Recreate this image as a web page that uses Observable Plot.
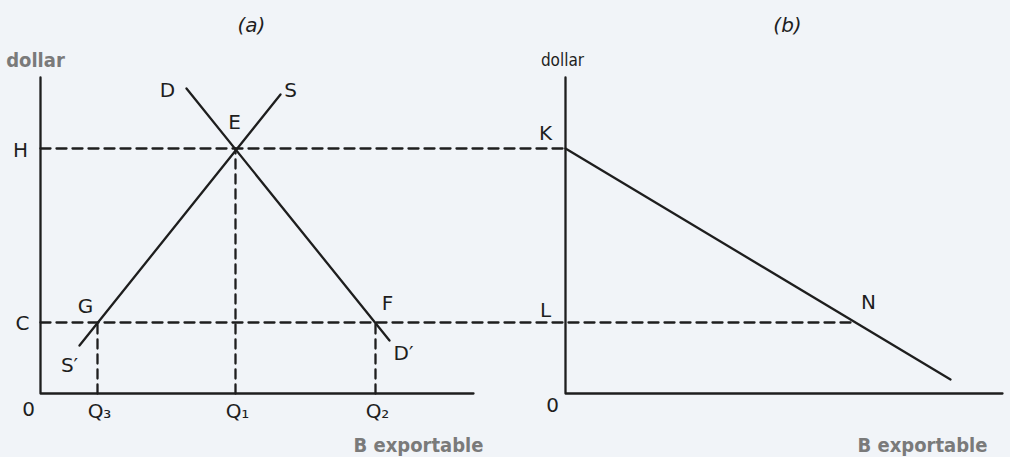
<!DOCTYPE html>
<html>
<head>
<meta charset="utf-8">
<script src="https://cdn.jsdelivr.net/npm/d3@7"></script>
<script src="https://cdn.jsdelivr.net/npm/@observablehq/plot@0.6"></script>
<style>
  html, body { margin: 0; padding: 0; background: #f1f4f8; }
  #chart svg { display: block; background: #f1f4f8; }
</style>
</head>
<body>
<div id="chart"></div>
<script>
// ---- Data (schematic units: quantity on x, dollar on y) ----
const priceNames = ["H", "C"];
const priceValues = [24.5, 7.1];
const quantityNames = ["Q₃", "Q₁", "Q₂"];
const quantityValues = [5.7, 19.5, 33.5];
const quantityPrices = [7.1, 24.5, 7.1];
// Demand D → D′ and supply S′ → S in panel (a)
const demandX = [14.6, 34.9];
const demandY = [30.5, 5.3];
const supplyX = [3.9, 24.0];
const supplyY = [4.8, 29.9];
// Panel (b): export supply line K → N (x relative to panel b origin)
const exportX = [0, 38.5];
const exportY = [24.5, 1.4];
const pointNX = 28.8;
const axisTop = 31.6;
const axisAEnd = 43.3;
const axisBEnd = 43.7;
const panelBOrigin = 52.5;

// ---- Derived tables ----
const demand = demandX.map((x, i) => ({x, y: demandY[i]}));
const supply = supplyX.map((x, i) => ({x, y: supplyY[i]}));
const exportLine = exportX.map((x, i) => ({x: panelBOrigin + x, y: exportY[i]}));
const hLines = [
  [{x: 0, y: priceValues[0]}, {x: panelBOrigin, y: priceValues[0]}],
  [{x: 0, y: priceValues[1]}, {x: panelBOrigin + pointNX, y: priceValues[1]}]
];
const vLines = quantityValues.map((q, i) => [{x: q, y: 0}, {x: q, y: quantityPrices[i]}]);
const axes = [
  [{x: 0, y: axisTop}, {x: 0, y: 0}, {x: axisAEnd, y: 0}],
  [{x: panelBOrigin, y: axisTop}, {x: panelBOrigin, y: 0}, {x: panelBOrigin + axisBEnd, y: 0}]
];

const ink = "#1e1e1e";
const gray = "#7a7a7a";
const font = "DejaVu Sans";
const sw = 2.3;

// Letter labels anchored to data points with small offsets
const labels = [
  {t: "D", x: demandX[0], y: demandY[0], dx: -19, dy: 2},
  {t: "S", x: supplyX[1], y: supplyY[1], dx: 10, dy: -4},
  {t: "E", x: quantityValues[1], y: priceValues[0], dx: -1, dy: -26},
  {t: priceNames[0], x: 0, y: priceValues[0], dx: -20, dy: 2},
  {t: priceNames[1], x: 0, y: priceValues[1], dx: -18, dy: 1},
  {t: "G", x: quantityValues[0], y: priceValues[1], dx: -12, dy: -16},
  {t: "S′", x: supplyX[0], y: supplyY[0], dx: -10, dy: 20},
  {t: "F", x: quantityValues[2], y: priceValues[1], dx: 12, dy: -19},
  {t: "D′", x: demandX[1], y: demandY[1], dx: 14, dy: 13},
  {t: "0", x: 0, y: 0, dx: -12, dy: 16},
  {t: "K", x: panelBOrigin, y: priceValues[0], dx: -20, dy: -15},
  {t: "L", x: panelBOrigin, y: priceValues[1], dx: -20, dy: -12},
  {t: "N", x: panelBOrigin + pointNX, y: priceValues[1], dx: 15, dy: -20},
  {t: "0", x: panelBOrigin, y: 0, dx: -13, dy: 12},
  ...quantityNames.map((t, i) => ({t, x: quantityValues[i], y: 0, dx: 2, dy: 18}))
];

const chart = Plot.plot({
  width: 1010,
  height: 457,
  margin: 0,
  style: {background: "#f1f4f8", overflow: "visible"},
  x: {domain: [-4, 97], range: [0, 1010], axis: null},
  y: {domain: [-6.4, 39.3], range: [457, 0], axis: null},
  marks: [
    // dashed guides
    ...hLines.map(d => Plot.line(d, {x: "x", y: "y", stroke: ink, strokeWidth: sw, strokeDasharray: "10,6"})),
    ...vLines.map(d => Plot.line(d, {x: "x", y: "y", stroke: ink, strokeWidth: sw, strokeDasharray: "9,6"})),
    // axes
    ...axes.map(d => Plot.line(d, {x: "x", y: "y", stroke: ink, strokeWidth: sw})),
    // curves
    Plot.line(demand, {x: "x", y: "y", stroke: ink, strokeWidth: sw}),
    Plot.line(supply, {x: "x", y: "y", stroke: ink, strokeWidth: sw}),
    Plot.line(exportLine, {x: "x", y: "y", stroke: ink, strokeWidth: sw}),
    // letter labels
    ...labels.map(l => Plot.text([l], {x: "x", y: "y", text: "t", dx: l.dx, dy: l.dy, fill: ink, fontSize: 20, fontFamily: font})),
    // panel titles
    Plot.text(["(a)"], {x: quantityValues[1], y: axisTop, dx: 16, dy: -52, fill: ink, fontSize: 20, fontStyle: "italic", fontFamily: font}),
    Plot.text(["(b)"], {x: panelBOrigin, y: axisTop, dx: 222, dy: -52, fill: ink, fontSize: 20, fontStyle: "italic", fontFamily: font}),
    // axis titles
    Plot.text(["dollar"], {x: 0, y: axisTop, dx: -5, dy: -17, fill: gray, fontSize: 20, fontWeight: "bold", fontFamily: "DejaVu Sans Condensed", letterSpacing: "-0.5px"}),
    Plot.text(["dollar"], {x: panelBOrigin, y: axisTop, dx: -3, dy: -17, fill: ink, fontSize: 17, fontFamily: "DejaVu Sans Condensed"}),
    Plot.text(["B exportable"], {x: axisAEnd, y: 0, dx: -55, dy: 52, fill: gray, fontSize: 20, fontWeight: "bold", fontFamily: "DejaVu Sans Condensed", letterSpacing: "-1px"}),
    Plot.text(["B exportable"], {x: panelBOrigin + axisBEnd, y: 0, dx: -80, dy: 52, fill: gray, fontSize: 20, fontWeight: "bold", fontFamily: "DejaVu Sans Condensed", letterSpacing: "-1px"})
  ]
});
document.getElementById("chart").appendChild(chart);
</script>
</body>
</html>
